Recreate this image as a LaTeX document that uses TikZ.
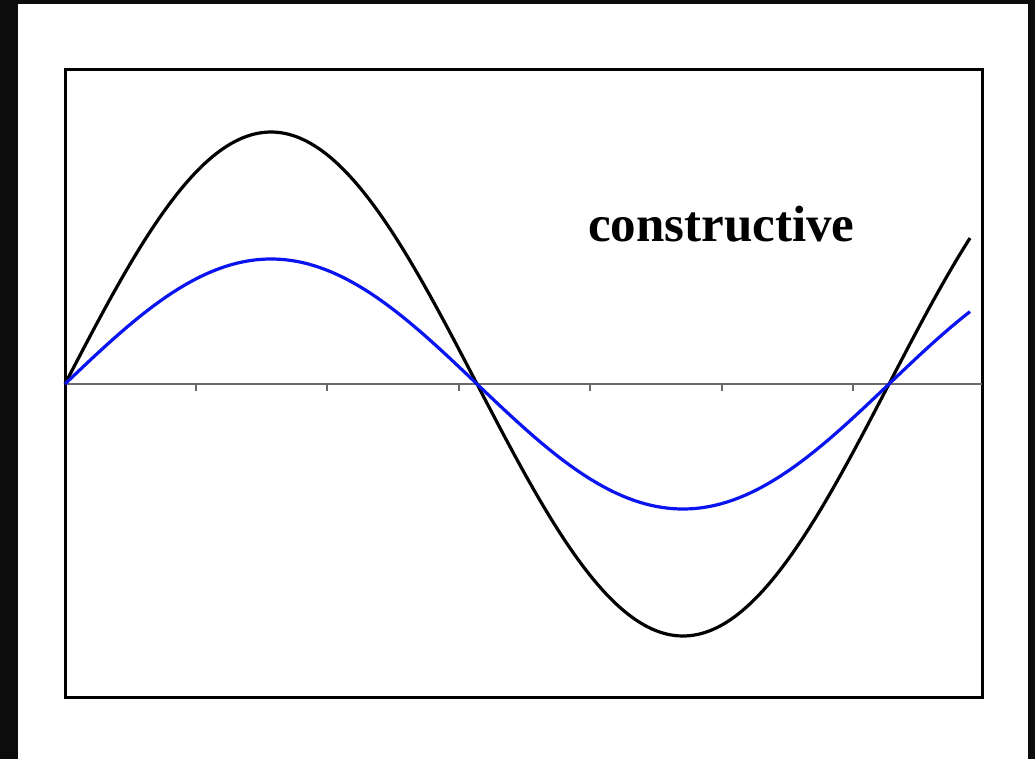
\documentclass[tikz,border=0pt]{standalone}
\usepackage{fontspec}
\setmainfont{Liberation Serif}
\definecolor{frame}{HTML}{0C0C0C}
\definecolor{axisgray}{HTML}{6A6A6A}
\definecolor{wave}{HTML}{0A14F0}
\begin{document}
\begin{tikzpicture}[x=1pt,y=-1pt,
  box/.style={draw=black,line width=3pt},
  axisline/.style={draw=axisgray,line width=2pt},
  tickmark/.style={draw=axisgray,line width=1.5pt},
  bigwave/.style={draw=black,line width=3.2pt,line join=round},
  smallwave/.style={draw=wave,line width=3.2pt,line join=round},
  label/.style={font=\bfseries\fontsize{51}{60}\selectfont,inner sep=0pt,anchor=base west}]
\useasboundingbox (0,0) rectangle (1035,759);
\fill[white] (0,0) rectangle (1035,759);
% outer dark frame
\fill[frame] (0,0) rectangle (18,759);
\fill[frame] (0,0) rectangle (1035,4);
\fill[frame] (1028,0) rectangle (1035,759);
% plot box
\draw[box] (65,70) rectangle (982,697);
% axis
\coordinate (axL) at (65,384);
\coordinate (axR) at (982,384);
\draw[axisline] (axL) -- (axR);
\foreach \t in {196,327,459,590,722,853}
  \draw[tickmark] (\t,384) -- (\t,391);
% waves
\draw[bigwave] plot[domain=65:970,samples=240,smooth] (\x,{384-252*sin((\x-65)/824*360)});
\draw[smallwave] plot[domain=65:970,samples=240,smooth] (\x,{384-125*sin((\x-65)/824*360)});
% label
\node[label] (lbl) at (588,242) {constructive};
\end{tikzpicture}
\end{document}
